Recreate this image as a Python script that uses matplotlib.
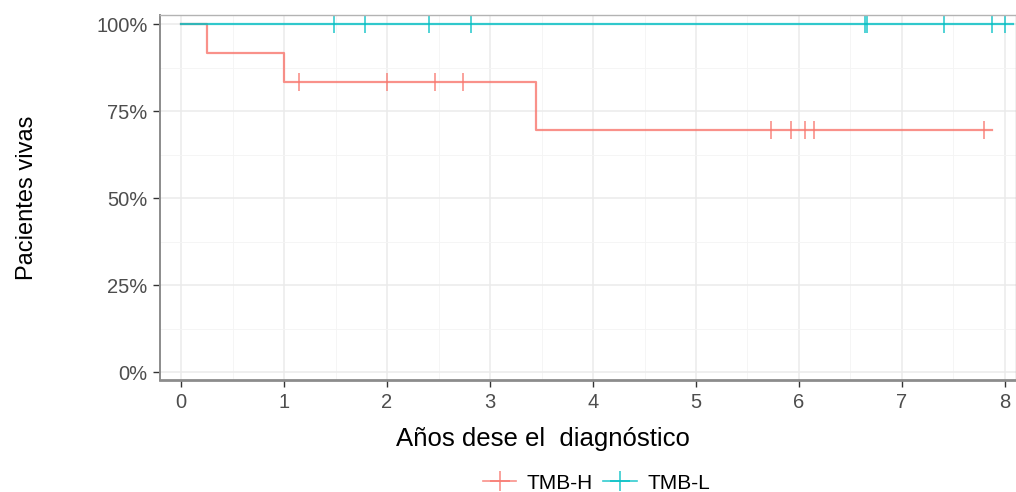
import matplotlib
matplotlib.use("Agg")
import matplotlib.pyplot as plt
from matplotlib.lines import Line2D

plt.rcParams["font.family"] = ["Liberation Sans", "DejaVu Sans"]

# Kaplan-Meier, grupo TMB-H (escalones)
h_tiempo = [0, 0.25, 1.0, 3.45, 7.87]
h_surv = [1.0, 11 / 12, 10 / 12, 10 / 12 * 5 / 6, 10 / 12 * 5 / 6]
h_cens_t = [1.15, 2.0, 2.47, 2.74, 5.73, 5.92, 6.06, 6.15, 7.80]
h_cens_s = [10 / 12] * 4 + [10 / 12 * 5 / 6] * 5

# grupo TMB-L (sin eventos)
l_tiempo = [0, 8.08]
l_surv = [1.0, 1.0]
l_cens_t = [1.49, 1.79, 2.41, 2.82, 6.64, 6.66, 7.41, 7.87, 8.0]
l_cens_s = [1.0] * 9

ROJO = "#F8766D"
CIAN = "#00BFC4"
GRIS = "#4D4D4D"

fig = plt.figure(figsize=(10.16, 4.92), dpi=100)
ax = fig.add_axes([0.1575, 0.2276, 0.8425, 0.7419])

ax.set_xticks(range(0, 9))
ax.set_xticks([x + 0.5 for x in range(0, 8)], minor=True)
ax.set_yticks([0, 0.25, 0.5, 0.75, 1.0])
ax.set_yticks([0.125, 0.375, 0.625, 0.875], minor=True)
ax.set_yticklabels(["0%", "25%", "50%", "75%", "100%"])
ax.grid(which="major", color="#EBEBEB", lw=1.1)
ax.grid(which="minor", color="#F4F4F4", lw=0.6)
ax.set_axisbelow(True)

ax.step(h_tiempo, h_surv, where="post", color=ROJO, lw=1.6, alpha=0.8)
ax.step(l_tiempo, l_surv, where="post", color=CIAN, lw=1.6, alpha=0.8)
ax.plot(h_cens_t, h_cens_s, ls="none", marker="|", ms=13, mew=1.2, color=ROJO, alpha=0.8)
ax.plot(l_cens_t, l_cens_s, ls="none", marker="|", ms=13, mew=1.2, color=CIAN, alpha=0.8)

ax.set_xlim(-0.204, 8.107)
ax.set_ylim(-0.023, 1.026)

for s in ax.spines.values():
    s.set_color("#B3B3B3")
    s.set_linewidth(1.0)
ax.spines["left"].set_color("#8C8C8C")
ax.spines["bottom"].set_color("#8C8C8C")
ax.spines["bottom"].set_linewidth(2.0)
ax.spines["left"].set_linewidth(1.4)

ax.tick_params(which="major", direction="out", length=5, width=1, color="#333333",
               labelsize=14.5, labelcolor=GRIS, pad=4)
ax.tick_params(which="minor", length=0)

ax.set_xlabel("Años dese el  diagnóstico", fontsize=18.5, color="black")
ax.xaxis.set_label_coords(0.447, -0.13)
ax.set_ylabel("Pacientes vivas", fontsize=17, color="black", labelpad=42)

handles = [
    Line2D([], [], color=ROJO, lw=1.2, marker="+", ms=15, mew=1.2, alpha=0.8),
    Line2D([], [], color=CIAN, lw=1.2, marker="+", ms=15, mew=1.2, alpha=0.8),
]
fig.legend(handles, ["TMB-H", "TMB-L"], loc="center", bbox_to_anchor=(0.587, 0.018),
           ncol=2, frameon=False, fontsize=15, handlelength=1.6, columnspacing=0.5,
           handletextpad=0.5)

fig.savefig("out.png", dpi=100)
